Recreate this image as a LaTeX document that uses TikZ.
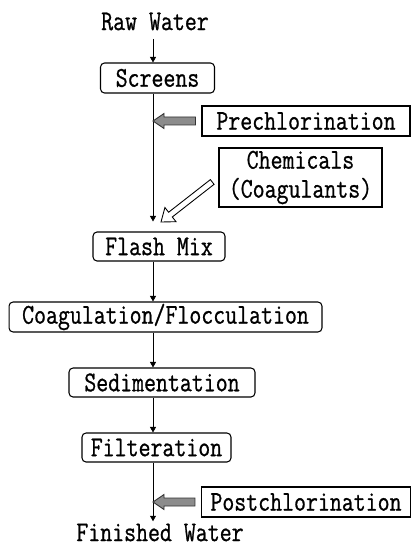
\documentclass[tikz,border=0pt]{standalone}
\usepackage{fontspec}
\setmonofont{Latin Modern Mono}[FakeStretch=0.81, FakeBold=0.8]
\usepackage{tikz}
\usetikzlibrary{arrows.meta, calc}
\newcommand{\grayarrow}[2]{\draw[fatarrow] (#1) ++(0,-4) -- ($(#2)+(11,-4)$) -- ($(#2)+(11,-7.5)$) -- (#2) -- ($(#2)+(11,7.5)$) -- ($(#2)+(11,4)$) -- ($(#1)+(0,4)$) -- cycle;}

\begin{document}
\begin{tikzpicture}[x=0.02cm, y=-0.02cm,
  every node/.style={font=\ttfamily\fontsize{16.3}{16.5}\selectfont},
  term/.style={inner sep=0pt},
  stage/.style={draw, line width=0.6pt, rounded corners=0.08cm, inner sep=0pt, minimum height=0.6cm},
  dose/.style={draw, line width=0.6pt, inner sep=0pt, minimum height=0.6cm},
  flow/.style={line width=0.45pt, -{Triangle[length=0.11cm, width=0.12cm]}},
  fatarrow/.style={draw=black!80, fill=black!45, line width=0.5pt},
  hollow/.style={draw, fill=white, line width=0.5pt}]
\useasboundingbox (0,0) rectangle (411,547);
\coordinate (axis) at (153,0);
\node[term] (raw) at (155,21.5) {Raw Water};
\node[stage, minimum width=2.28cm] (screens) at (157.5,78) {Screens};
\node[dose, minimum width=4.16cm] (pre) at (306,121) {Prechlorination};
\node[dose, minimum width=3.26cm, minimum height=1.18cm, align=center] (chem) at (300.5,177.5) {Chemicals\\(Coagulants)};
\node[stage, minimum width=2.64cm, minimum height=0.58cm] (flash) at (159,246.5) {Flash Mix};
\node[stage, minimum width=6.26cm] (coag) at (165.5,317) {Coagulation/Flocculation};
\node[stage, minimum width=3.72cm, minimum height=0.58cm] (sed) at (162,382.5) {Sedimentation};
\node[stage, minimum width=2.98cm, minimum height=0.58cm] (filt) at (156.5,447.5) {Filteration};
\node[dose, minimum width=4.18cm] (post) at (306,502) {Postchlorination};
\node[term] (fin) at (160,532.5) {Finished Water};
% main line
\draw[flow, shorten <=0.16cm] (raw.south -| axis) -- (screens.north -| axis);
\draw[flow, shorten >=0.2cm] (screens.south -| axis) -- (flash.north -| axis);
\draw[flow] (flash.south -| axis) -- (coag.north -| axis);
\draw[flow] (coag.south -| axis) -- (sed.north -| axis);
\draw[flow] (sed.south -| axis) -- (filt.north -| axis);
\draw[flow, shorten >=0.04cm] (filt.south -| axis) -- (fin.north -| axis);
% chlorine feeds
\coordinate (pretail) at ($(pre.west)+(-6,0)$);
\coordinate (pretip) at (pre.west -| axis);
\grayarrow{pretail}{pretip}
\coordinate (posttail) at ($(post.west)+(-6,0)$);
\coordinate (posttip) at (post.west -| axis);
\grayarrow{posttail}{posttip}
% coagulant feed
\coordinate (chemtip) at (161,222);
\begin{scope}[shift={(chemtip)}, rotate=38]
\draw[hollow] (0,0) -- (12,9) -- (12,3) -- (65,3) -- (65,-3) -- (12,-3) -- (12,-9) -- cycle;
\end{scope}
\end{tikzpicture}
\end{document}
